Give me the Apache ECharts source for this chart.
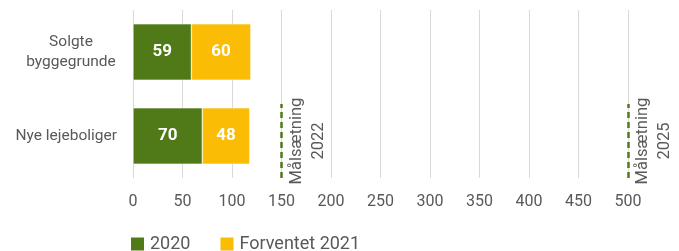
<!DOCTYPE html>
<html>
<head>
<meta charset="utf-8">
<script src="https://cdn.jsdelivr.net/npm/echarts@6/dist/echarts.min.js"></script>
<style>
	html, body { margin: 0; padding: 0; background: #fff; }
	#chart { width: 679px; height: 251px; }
</style>
</head>
<body>
<div id="chart"></div>
<script>
	var categories = ['Solgte\nbyggegrunde', 'Nye lejeboliger'];
	var values2020 = [59, 70];
	var values2021 = [60, 48];
	var goalValues = [150, 500];
	var goalLabels = ['Målsætning\n2022', 'Målsætning\n2025'];

	var goalLines = goalValues.map(function(v, i) {
		return [{
			coord: [v, 0],
			label: { formatter: goalLabels[i] }
		}, {
			coord: [v, 0.44]
		}];
	});

	var chart = echarts.init(document.getElementById('chart'));
	chart.setOption({
		animation: false,
		textStyle: { fontFamily: 'Roboto' },
		grid: { left: 133, right: 51, top: 10, bottom: 73 },
		legend: {
			data: ['2020', 'Forventet 2021'],
			left: 124,
			top: 230,
			itemWidth: 15,
			itemHeight: 15,
			itemGap: 28,
			icon: 'rect',
			textStyle: { fontSize: 18, color: '#595959', fontFamily: 'Roboto' }
		},
		xAxis: {
			type: 'value',
			min: 0,
			max: 500,
			interval: 50,
			axisLine: { show: false },
			axisTick: { show: false },
			splitLine: { lineStyle: { color: '#d9d9d9', width: 1 } },
			axisLabel: { fontSize: 16, color: '#595959', margin: 16 }
		},
		yAxis: [{
			type: 'category',
			inverse: true,
			data: categories,
			axisLine: { show: false },
			axisTick: { show: false },
			axisLabel: {
				fontSize: 15.5,
				color: '#595959',
				margin: 16,
				formatter: function(v) {
					if (v.indexOf('\n') < 0) return v;
					return v.split('\n').map(function(s) { return '{c|' + s + '}'; }).join('\n');
				},
				rich: {
					c: { width: 92, align: 'center', fontSize: 15.5, color: '#595959', lineHeight: 20 }
				}
			}
		}, {
			type: 'value',
			min: 0,
			max: 1,
			show: false
		}],
		series: [{
			name: '2020',
			type: 'bar',
			stack: 'total',
			barCategoryGap: '33%',
			data: values2020,
			itemStyle: { color: '#4f7a17', borderColor: '#fff', borderWidth: 0.5 },
			label: { show: true, color: '#fff', fontWeight: 'bold', fontSize: 17 }
		}, {
			name: 'Forventet 2021',
			type: 'bar',
			stack: 'total',
			data: values2021,
			itemStyle: { color: '#fbbc05', borderColor: '#fff', borderWidth: 0.5 },
			label: { show: true, color: '#fff', fontWeight: 'bold', fontSize: 17 }
		}, {
			name: 'goals',
			type: 'line',
			yAxisIndex: 1,
			data: [],
			markLine: {
				silent: true,
				symbol: 'none',
				lineStyle: { color: '#4f7a17', type: [6, 4], width: 2.5 },
				label: {
					position: 'insideMiddleBottom',
					fontSize: 16.5,
					color: '#595959',
					align: 'center',
					lineHeight: 22,
					distance: 4
				},
				data: goalLines
			}
		}]
	});
</script>
</body>
</html>
